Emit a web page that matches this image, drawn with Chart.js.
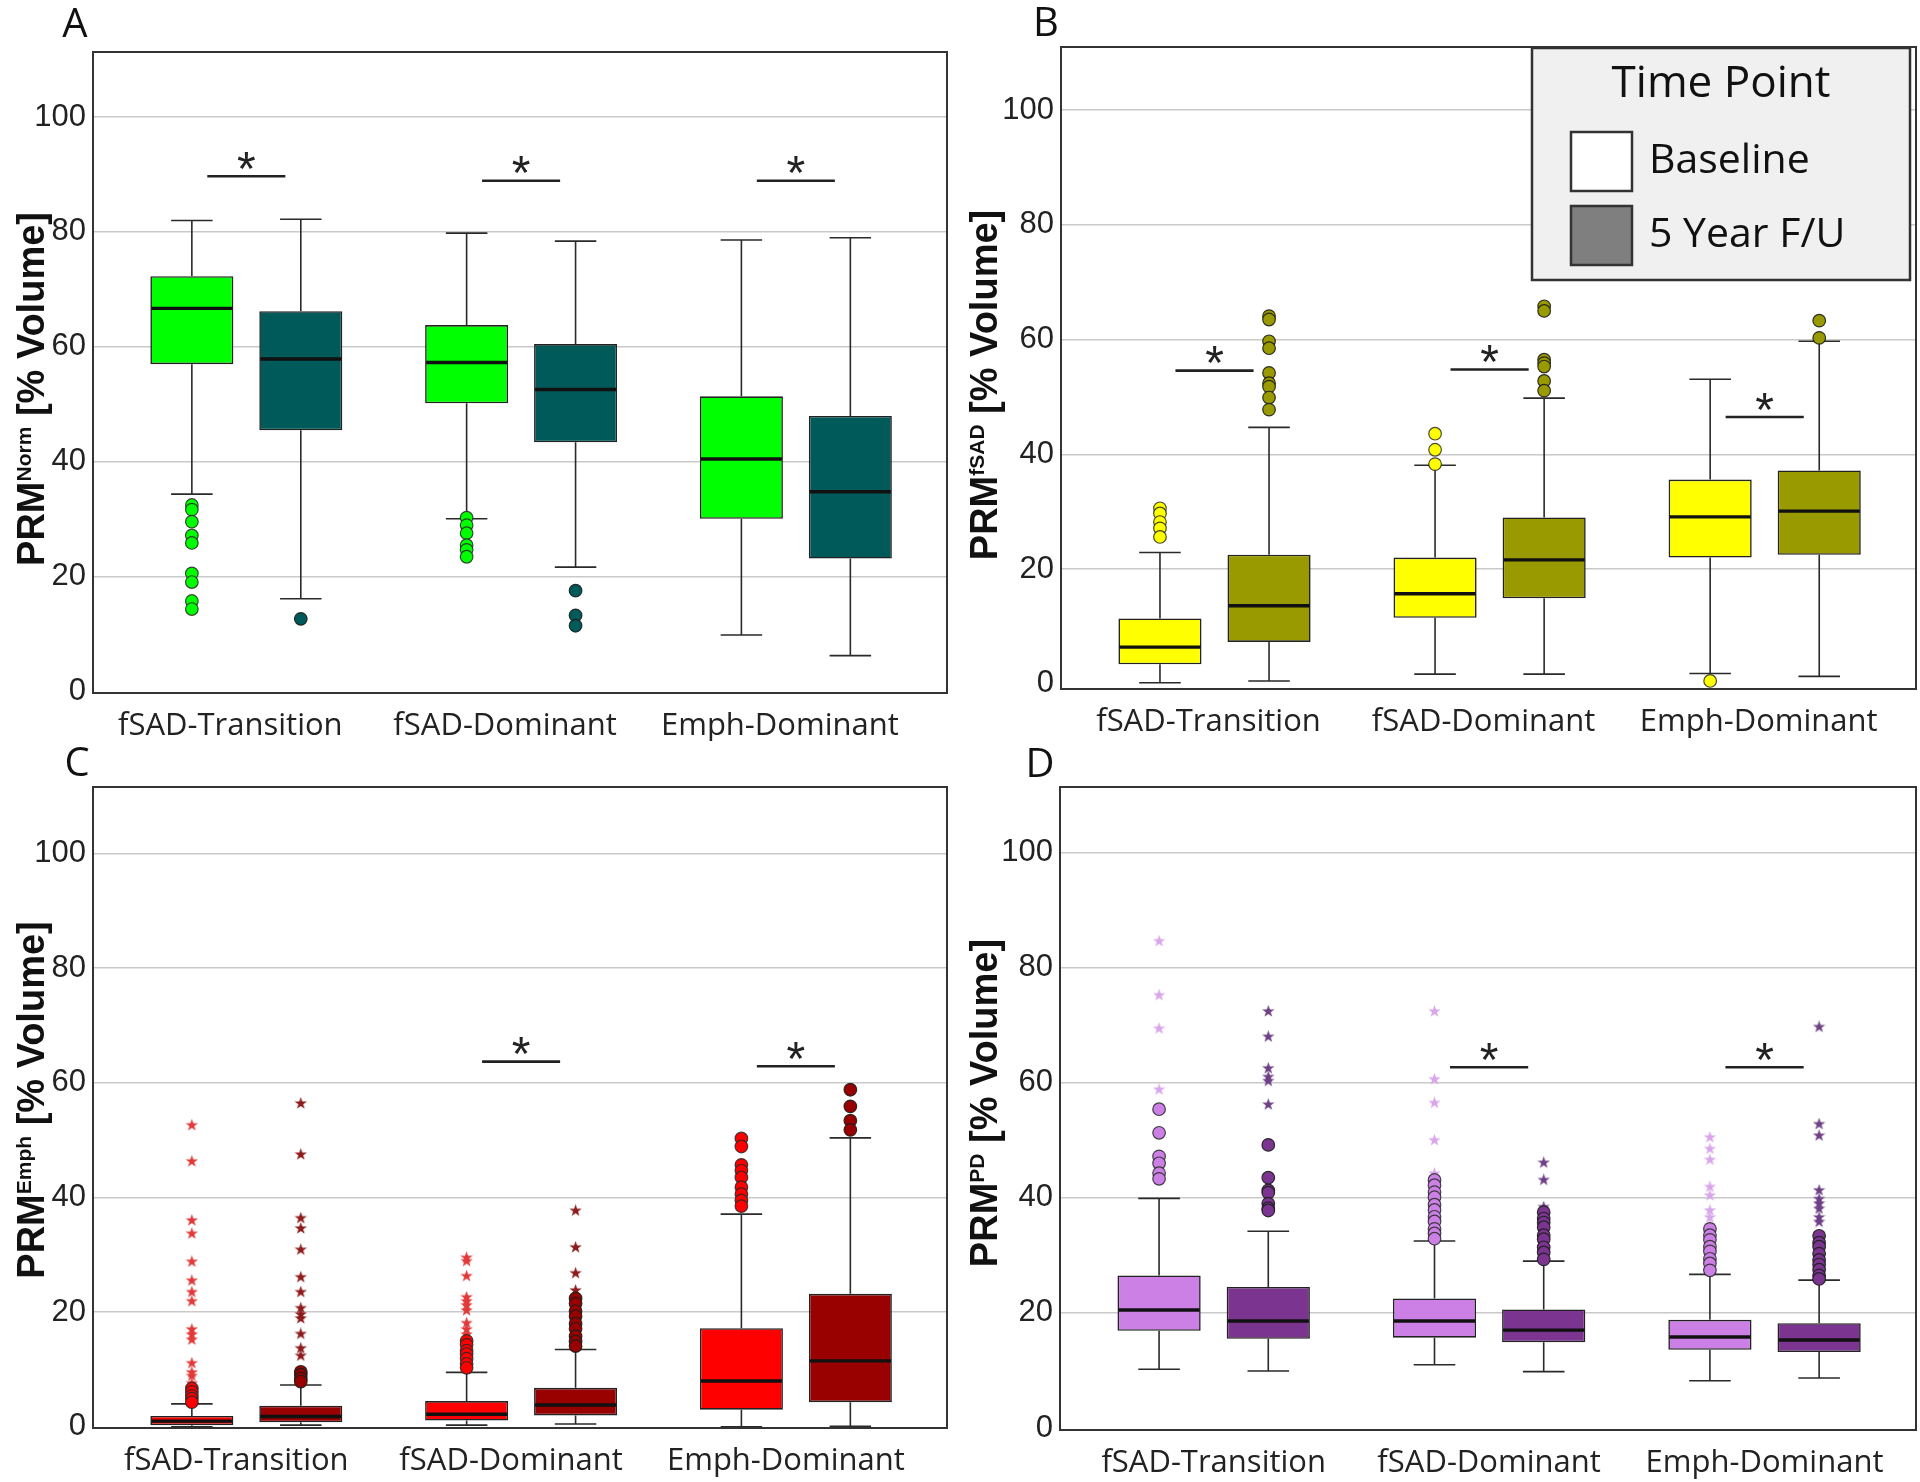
<!DOCTYPE html>
<html><head><meta charset="utf-8">
<script src="https://cdn.jsdelivr.net/npm/chart.js@4.4.1/dist/chart.umd.min.js"></script>
<style>
html,body{margin:0;padding:0;background:#fff;width:1920px;height:1482px;overflow:hidden}
.panel{position:absolute;width:960px;height:741px}
</style></head><body>
<div class="panel" style="left:0;top:0"><canvas id="cA"></canvas></div>
<div class="panel" style="left:960px;top:0"><canvas id="cB"></canvas></div>
<div class="panel" style="left:0;top:741px"><canvas id="cC"></canvas></div>
<div class="panel" style="left:960px;top:741px"><canvas id="cD"></canvas></div>
<script>
// ---------- shared labels ----------
const categories = ['fSAD-Transition', 'fSAD-Dominant', 'Emph-Dominant'];
const seriesNames = ['Baseline', '5 Year F/U'];
const legendTitle = 'Time Point';
const yTickValues = [0, 20, 40, 60, 80, 100];

// ---------- Panel A : PRM Norm ----------
const normBaseLo  = [34.4, 30.1, 9.9];
const normBaseQ1  = [57.0, 50.2, 30.1];
const normBaseMed = [66.7, 57.3, 40.5];
const normBaseQ3  = [72.3, 63.8, 51.4];
const normBaseHi  = [82.0, 79.8, 78.6];
const normFuLo  = [16.2, 21.7, 6.3];
const normFuQ1  = [45.5, 43.4, 23.2];
const normFuMed = [57.9, 52.6, 34.8];
const normFuQ3  = [66.2, 60.5, 48.0];
const normFuHi  = [82.2, 78.4, 79.0];
const normBaseCircles = [[32.5, 31.7, 29.6, 27.2, 25.9, 20.6, 19.1, 15.8, 14.4], [30.3, 29.0, 27.6, 25.5, 24.7, 23.5], []];
const normFuCircles   = [[12.7], [17.6, 13.3, 11.5], []];
const normBaseStars = [[], [], []];
const normFuStars   = [[], [], []];
const normSig = [89.7, 88.9, 88.9];

// ---------- Panel B : PRM fSAD ----------
const fsadBaseLo  = [0.2, 1.7, 1.8];
const fsadBaseQ1  = [3.4, 11.5, 22.0];
const fsadBaseMed = [6.4, 15.7, 29.1];
const fsadBaseQ3  = [11.4, 22.0, 35.6];
const fsadBaseHi  = [22.9, 38.1, 53.1];
const fsadFuLo  = [0.5, 1.7, 1.3];
const fsadFuQ1  = [7.3, 14.9, 22.5];
const fsadFuMed = [13.6, 21.6, 30.1];
const fsadFuQ3  = [22.5, 29.0, 37.2];
const fsadFuHi  = [44.7, 49.8, 59.7];
const fsadBaseCircles = [[30.6, 29.7, 28.2, 27.1, 25.6], [43.6, 40.8, 38.3], [0.5]];
const fsadFuCircles   = [[64.1, 63.5, 59.7, 58.5, 54.2, 52.4, 51.8, 49.9, 47.8], [65.8, 65.0, 56.5, 55.9, 55.3, 52.8, 51.1], [63.3, 60.3]];
const fsadBaseStars = [[], [], []];
const fsadFuStars   = [[], [], []];
const fsadSig = [54.6, 54.8, 46.5];

// ---------- Panel C : PRM Emph ----------
const emphBaseLo  = [0.0, 0.3, 0.0];
const emphBaseQ1  = [0.3, 1.1, 3.0];
const emphBaseMed = [1.0, 2.2, 8.0];
const emphBaseQ3  = [1.9, 4.5, 17.2];
const emphBaseHi  = [4.0, 9.5, 37.1];
const emphFuLo  = [0.3, 0.5, 0.1];
const emphFuQ1  = [0.8, 2.0, 4.3];
const emphFuMed = [1.8, 3.8, 11.5];
const emphFuQ3  = [3.7, 6.8, 23.2];
const emphFuHi  = [7.3, 13.5, 50.4];
const emphBaseCircles = [[6.7, 6.1, 5.4, 4.9, 4.3], [15.0, 14.3, 13.3, 12.7, 11.9, 11.0, 10.3], [50.3, 48.9, 45.7, 44.7, 43.5, 41.8, 40.6, 39.5, 38.5]];
const emphBaseStars   = [[52.6, 46.3, 36.0, 33.7, 28.8, 25.5, 23.5, 21.9, 17.0, 16.1, 15.2, 11.1, 9.5, 8.9, 7.6], [29.5, 28.9, 26.3, 22.6, 21.9, 21.2, 20.3, 18.1, 17.0, 16.1], []];
const emphFuCircles   = [[9.6, 9.1, 8.4, 7.9], [22.4, 21.5, 20.2, 19.3, 18.0, 17.1, 15.8, 14.9, 14.1], [58.8, 55.9, 53.4, 51.8]];
const emphFuStars     = [[56.4, 47.5, 36.4, 34.6, 30.9, 26.1, 23.5, 20.7, 19.6, 18.9, 16.2, 13.7, 12.4], [37.7, 31.3, 26.8, 23.8], []];
const emphSig = [null, 63.7, 62.9];

// ---------- Panel D : PRM PD ----------
const pdBaseLo  = [10.2, 11.0, 8.2];
const pdBaseQ1  = [16.9, 15.7, 13.6];
const pdBaseMed = [20.5, 18.6, 15.8];
const pdBaseQ3  = [26.5, 22.5, 18.8];
const pdBaseHi  = [39.9, 32.5, 26.7];
const pdFuLo  = [9.9, 9.8, 8.7];
const pdFuQ1  = [15.5, 14.9, 13.2];
const pdFuMed = [18.6, 17.0, 15.3];
const pdFuQ3  = [24.5, 20.6, 18.2];
const pdFuHi  = [34.2, 29.0, 25.7];
const pdBaseCircles = [[55.4, 51.3, 47.2, 46.0, 44.3, 43.3], [43.1, 42.2, 41.0, 40.1, 38.8, 37.9, 36.7, 35.9, 34.6, 33.8, 32.9], [34.6, 33.5, 32.7, 31.5, 30.7, 29.4, 28.6, 27.4]];
const pdBaseStars   = [[84.6, 75.2, 69.4, 58.8], [72.4, 60.6, 56.5, 50.0, 44.2], [50.5, 48.5, 46.6, 41.9, 40.4, 37.8, 36.6, 35.2]];
const pdFuCircles   = [[49.2, 43.5, 41.3, 40.9, 39.0, 38.2, 37.8], [37.5, 36.4, 35.7, 34.9, 33.5, 32.8, 31.4, 30.5, 29.3], [33.4, 32.2, 31.5, 30.3, 29.2, 28.4, 27.5, 26.5, 25.9]];
const pdFuStars     = [[72.4, 68.0, 62.5, 61.0, 60.3, 56.2], [46.1, 43.1, 38.4], [69.7, 52.8, 50.8, 41.3, 39.8, 39.0, 38.1, 36.6, 35.8]];
const pdSig = [null, 62.7, 62.7];

// ---------- styling ----------
const CAT_PCT = 0.793, BAR_PCT = 0.762;
const BOX_OFFSET = CAT_PCT / 4;
const SIG_HALF = 0.142;

function starImage(fill, size) {
  const c = document.createElement('canvas');
  c.width = c.height = size;
  const g = c.getContext('2d');
  g.beginPath();
  for (let k = 0; k < 10; k++) {
    const r = k % 2 ? size * 0.2 : size * 0.5;
    const a = -Math.PI / 2 + k * Math.PI / 5;
    g.lineTo(size / 2 + r * Math.cos(a), size / 2 + r * Math.sin(a));
  }
  g.closePath();
  g.fillStyle = fill;
  g.fill();
  return c;
}

function points(lists, off) {
  const pts = [];
  lists.forEach((arr, i) => arr.forEach(v => pts.push({x: i + off, y: v})));
  return pts;
}

const boxPlugin = {
  id: 'boxExtras',
  beforeDatasetsDraw(chart, args, o) {
    const ctx = chart.ctx, ys = chart.scales.y;
    ctx.save();
    o.boxes.forEach((b) => {
      const meta = chart.getDatasetMeta(b.dsIndex);
      meta.data.forEach((el, i) => {
        const {x, width} = el.getProps(['x', 'width'], true);
        const cw = width * 0.25;
        const yHi = ys.getPixelForValue(b.hi[i]), yQ3 = ys.getPixelForValue(b.q3[i]);
        const yLo = ys.getPixelForValue(b.lo[i]), yQ1 = ys.getPixelForValue(b.q1[i]);
        ctx.strokeStyle = '#2a2a2a';
        ctx.lineWidth = 1.6;
        ctx.beginPath();
        ctx.moveTo(x, yHi); ctx.lineTo(x, yQ3);
        ctx.moveTo(x, yQ1); ctx.lineTo(x, yLo);
        ctx.moveTo(x - cw, yHi); ctx.lineTo(x + cw, yHi);
        ctx.moveTo(x - cw, yLo); ctx.lineTo(x + cw, yLo);
        ctx.stroke();
      });
    });
    ctx.restore();
  },
  afterDatasetsDraw(chart, args, o) {
    const ctx = chart.ctx, ys = chart.scales.y, xs = chart.scales.x;
    const area = chart.chartArea;
    ctx.save();
    // medians
    o.boxes.forEach((b) => {
      const meta = chart.getDatasetMeta(b.dsIndex);
      meta.data.forEach((el, i) => {
        const {x, width} = el.getProps(['x', 'width'], true);
        const ym = ys.getPixelForValue(b.med[i]);
        ctx.strokeStyle = '#111';
        ctx.lineWidth = 3.4;
        ctx.beginPath();
        ctx.moveTo(x - width / 2 + 1, ym); ctx.lineTo(x + width / 2 - 1, ym);
        ctx.stroke();
      });
    });
    // significance bars
    o.sig.forEach((v, i) => {
      if (v === null) return;
      const yp = ys.getPixelForValue(v);
      const x1 = xs.getPixelForValue(i - SIG_HALF), x2 = xs.getPixelForValue(i + SIG_HALF);
      ctx.strokeStyle = '#222';
      ctx.lineWidth = 2.6;
      ctx.beginPath(); ctx.moveTo(x1, yp); ctx.lineTo(x2, yp); ctx.stroke();
      ctx.fillStyle = '#222';
      ctx.font = '48px "Liberation Sans", Arial, sans-serif';
      ctx.textAlign = 'center';
      ctx.textBaseline = 'alphabetic';
      const m = ctx.measureText('*');
      const centerY = yp - 16;
      ctx.fillText('*', (x1 + x2) / 2, centerY + (m.actualBoundingBoxAscent - m.actualBoundingBoxDescent) / 2);
    });
    // frame
    ctx.strokeStyle = '#333';
    ctx.lineWidth = 2;
    ctx.strokeRect(area.left, area.top, area.right - area.left, area.bottom - area.top);
    ctx.restore();
  },
  afterDraw(chart, args, o) {
    const ctx = chart.ctx;
    ctx.save();
    // panel letter
    ctx.fillStyle = '#111';
    ctx.font = '40px "Open Sans", sans-serif';
    ctx.textAlign = 'center';
    ctx.textBaseline = 'middle';
    ctx.fillText(o.letter, o.letterX, o.letterY);
    // y axis title with superscript
    const mainFont = 'bold 38px "Liberation Sans", Arial, sans-serif';
    const supFont = 'bold 21px "Liberation Sans", Arial, sans-serif';
    ctx.font = mainFont; const w1 = ctx.measureText('PRM').width; const w3 = ctx.measureText(' [% Volume]').width;
    ctx.font = supFont; const w2 = ctx.measureText(o.sup).width;
    const total = w1 + w2 + w3;
    ctx.translate(o.titleX, o.titleY);
    ctx.rotate(-Math.PI / 2);
    ctx.textAlign = 'left';
    ctx.textBaseline = 'alphabetic';
    const base = 14;
    let xx = -total / 2;
    ctx.font = mainFont; ctx.fillText('PRM', xx, base); xx += w1;
    ctx.font = supFont; ctx.fillText(o.sup, xx, base - 13); xx += w2;
    ctx.font = mainFont; ctx.fillText(' [% Volume]', xx, base);
    ctx.restore();
    // legend
    if (o.legend) {
      const L = o.legend;
      ctx.save();
      ctx.fillStyle = '#F0F0F0';
      ctx.fillRect(L.x, L.y, L.w, L.h);
      ctx.strokeStyle = '#333';
      ctx.lineWidth = 2.5;
      ctx.strokeRect(L.x, L.y, L.w, L.h);
      ctx.fillStyle = '#111';
      ctx.font = '44px "Open Sans", sans-serif';
      ctx.textAlign = 'center';
      ctx.textBaseline = 'middle';
      ctx.fillText(legendTitle, L.x + L.w / 2, L.y + 36);
      const sw = [['#FFFFFF', seriesNames[0]], ['#7F7F7F', seriesNames[1]]];
      sw.forEach((s, k) => {
        const sy = L.y + 84 + k * 74;
        ctx.fillStyle = s[0];
        ctx.fillRect(L.x + 39, sy, 61, 59);
        ctx.strokeStyle = '#333';
        ctx.lineWidth = 2.5;
        ctx.strokeRect(L.x + 39, sy, 61, 59);
        ctx.fillStyle = '#111';
        ctx.font = '41px "Open Sans", sans-serif';
        ctx.textAlign = 'left';
        ctx.fillText(s[1], L.x + 117, sy + 29);
      });
      ctx.restore();
    }
  }
};

function makePanel(p) {
  const datasets = [
    {type: 'scatter', data: points(p.baseCircles, -BOX_OFFSET), pointStyle: 'circle', pointRadius: 6.3,
     backgroundColor: p.baseColor, borderColor: 'rgba(40,40,40,0.85)', borderWidth: 1.2, order: 0},
    {type: 'scatter', data: points(p.fuCircles, BOX_OFFSET), pointStyle: 'circle', pointRadius: 6.3,
     backgroundColor: p.fuColor, borderColor: 'rgba(30,30,30,0.9)', borderWidth: 1.2, order: 0},
    {type: 'scatter', data: points(p.baseStars, -BOX_OFFSET), pointStyle: starImage(p.baseStar, 13),
     pointRadius: 6, order: 0},
    {type: 'scatter', data: points(p.fuStars, BOX_OFFSET), pointStyle: starImage(p.fuStar, 13),
     pointRadius: 6, order: 0},
    {type: 'bar', label: seriesNames[0], data: p.base.q1.map((v, i) => ({x: i, y: [v, p.base.q3[i]]})),
     backgroundColor: p.baseColor, borderColor: '#222', borderWidth: 1.6, borderSkipped: false, order: 1},
    {type: 'bar', label: seriesNames[1], data: p.fu.q1.map((v, i) => ({x: i, y: [v, p.fu.q3[i]]})),
     backgroundColor: p.fuColor, borderColor: '#222', borderWidth: 1.6, borderSkipped: false, order: 1}
  ];
  return new Chart(document.getElementById(p.id), {
    type: 'bar',
    data: {datasets},
    plugins: [boxPlugin],
    options: {
      responsive: true, maintainAspectRatio: false, animation: false,
      categoryPercentage: CAT_PCT, barPercentage: BAR_PCT,
      layout: {padding: {left: 0, top: p.top, right: p.right, bottom: 0}, autoPadding: false},
      plugins: {
        legend: {display: false}, tooltip: {enabled: false},
        boxExtras: {
          boxes: [{dsIndex: 4, ...p.base}, {dsIndex: 5, ...p.fu}],
          sig: p.sig, letter: p.letter, letterX: p.letterX, letterY: p.letterY,
          sup: p.sup, titleX: p.titleX, titleY: p.titleY, legend: p.legend
        }
      },
      scales: {
        x: {
          type: 'linear', min: -0.558, max: 2.55, offset: false,
          afterBuildTicks: s => { s.ticks = categories.map((c, i) => ({value: i})); },
          afterFit: s => { s.height = p.xHeight; s.paddingLeft = 0; s.paddingRight = 0; },
          ticks: {callback: v => categories[v], autoSkip: false, maxRotation: 0, minRotation: 0, color: '#222',
                  font: {family: '"Open Sans", sans-serif', size: 31}, padding: 15, labelOffset: p.labelOffset},
          grid: {display: false, drawTicks: false}, border: {display: false}
        },
        y: {
          min: p.yMin, max: p.yMax,
          afterBuildTicks: s => { s.ticks = yTickValues.map(v => ({value: v})); },
          afterFit: s => { s.width = p.left; s.paddingTop = 0; s.paddingBottom = 0; },
          ticks: {color: '#222', font: {family: '"Liberation Sans", Arial, sans-serif', size: 31}, padding: 7},
          grid: {color: c => (c.tick && c.tick.value === 0) ? 'rgba(0,0,0,0)' : '#C9C9C9', lineWidth: 1.5, drawTicks: false},
          border: {display: false}
        }
      }
    }
  });
}

makePanel({id: 'cA', letter: 'A', letterX: 75, letterY: 26, sup: 'Norm', titleX: 30, titleY: 389,
  left: 93, right: 13, top: 52, xHeight: 48, yMin: -0.2, yMax: 111.3, labelOffset: -16,
  baseColor: '#00FF00', fuColor: '#005A5A', baseStar: '#00CC00', fuStar: '#005A5A',
  base: {lo: normBaseLo, q1: normBaseQ1, med: normBaseMed, q3: normBaseQ3, hi: normBaseHi},
  fu: {lo: normFuLo, q1: normFuQ1, med: normFuMed, q3: normFuQ3, hi: normFuHi},
  baseCircles: normBaseCircles, fuCircles: normFuCircles, baseStars: normBaseStars, fuStars: normFuStars,
  sig: normSig});

makePanel({id: 'cB', letter: 'B', letterX: 86, letterY: 25, sup: 'fSAD', titleX: 23, titleY: 385,
  left: 101, right: 4, top: 47, xHeight: 52, yMin: -0.9, yMax: 111.0, labelOffset: -6,
  baseColor: '#FFFF00', fuColor: '#999900', baseStar: '#E0E000', fuStar: '#888800',
  base: {lo: fsadBaseLo, q1: fsadBaseQ1, med: fsadBaseMed, q3: fsadBaseQ3, hi: fsadBaseHi},
  fu: {lo: fsadFuLo, q1: fsadFuQ1, med: fsadFuMed, q3: fsadFuQ3, hi: fsadFuHi},
  baseCircles: fsadBaseCircles, fuCircles: fsadFuCircles, baseStars: fsadBaseStars, fuStars: fsadFuStars,
  sig: fsadSig, legend: {x: 572, y: 48, w: 378, h: 232}});

makePanel({id: 'cC', letter: 'C', letterX: 77, letterY: 24, sup: 'Emph', titleX: 30, titleY: 359,
  left: 93, right: 13, top: 46, xHeight: 54, yMin: -0.2, yMax: 111.6, labelOffset: -10,
  baseColor: '#FF0000', fuColor: '#990000', baseStar: '#E23A3A', fuStar: '#8E1C1C',
  base: {lo: emphBaseLo, q1: emphBaseQ1, med: emphBaseMed, q3: emphBaseQ3, hi: emphBaseHi},
  fu: {lo: emphFuLo, q1: emphFuQ1, med: emphFuMed, q3: emphFuQ3, hi: emphFuHi},
  baseCircles: emphBaseCircles, fuCircles: emphFuCircles, baseStars: emphBaseStars, fuStars: emphFuStars,
  sig: emphSig});

makePanel({id: 'cD', letter: 'D', letterX: 80, letterY: 25, sup: 'PD', titleX: 23, titleY: 362,
  left: 100, right: 4, top: 46, xHeight: 52, yMin: -0.35, yMax: 111.4, labelOffset: 0,
  baseColor: '#CC80E6', fuColor: '#7B3590', baseStar: '#D9A6EB', fuStar: '#6E4085',
  base: {lo: pdBaseLo, q1: pdBaseQ1, med: pdBaseMed, q3: pdBaseQ3, hi: pdBaseHi},
  fu: {lo: pdFuLo, q1: pdFuQ1, med: pdFuMed, q3: pdFuQ3, hi: pdFuHi},
  baseCircles: pdBaseCircles, fuCircles: pdFuCircles, baseStars: pdBaseStars, fuStars: pdFuStars,
  sig: pdSig});
</script>
</body></html>
